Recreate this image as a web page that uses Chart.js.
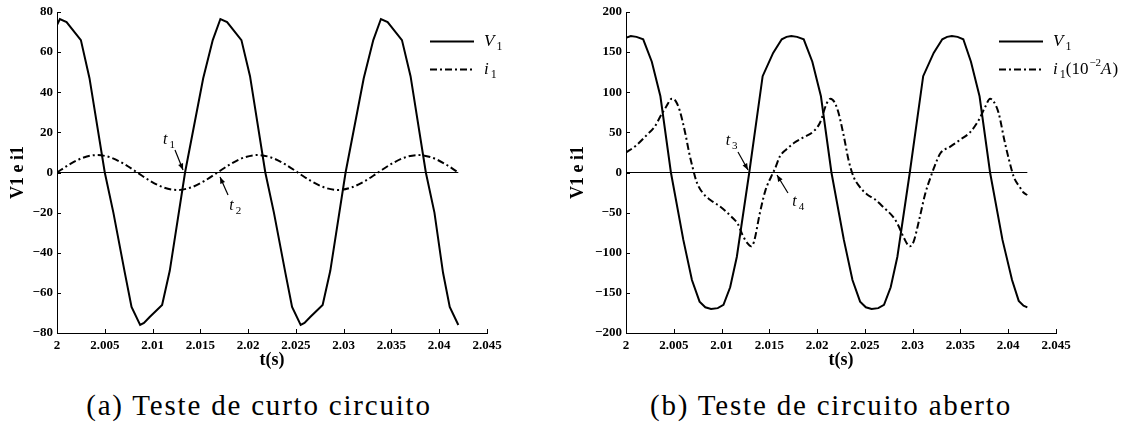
<!DOCTYPE html>
<html><head><meta charset="utf-8">
<script src="https://cdn.jsdelivr.net/npm/chart.js@4.4.0/dist/chart.umd.min.js"></script>
<style>
html,body{margin:0;padding:0;background:#fff;width:1146px;height:425px;overflow:hidden;}
.box{position:absolute;top:0;height:380px;}
#boxA{left:0;width:560px;}
#boxB{left:560px;width:586px;}
.cap{position:absolute;font-family:"Liberation Serif","Times New Roman","DejaVu Serif",serif;font-size:29px;letter-spacing:1.8px;color:#000;white-space:nowrap;transform:translateX(-50%);line-height:1;}
</style></head><body>
<div class="box" id="boxA"><canvas id="cA"></canvas></div>
<div class="box" id="boxB"><canvas id="cB"></canvas></div>
<div class="cap" style="left:259px;top:391px">(a) Teste de curto circuito</div>
<div class="cap" style="left:831px;top:391px">(b) Teste de circuito aberto</div>
<script>
// ---- tick labels ----
const xTicks = [2, 2.005, 2.01, 2.015, 2.02, 2.025, 2.03, 2.035, 2.04, 2.045];
const xTickLabels = ['2','2.005','2.01','2.015','2.02','2.025','2.03','2.035','2.04','2.045'];
const yTicksA = [-80,-60,-40,-20,0,20,40,60,80];
const yTicksB = [-200,-150,-100,-50,0,50,100,150,200];

// ---- zero reference line ----
const zeroT = [2, 2.042];
const zeroV = [0, 0];

// ---- (a) curto circuito: V1 ----
const tV1a = [2.0000,2.0003,2.0010,2.0025,2.0034,2.0050,2.0059,2.0071,2.0078,2.0087,2.0091,2.0097,2.0110,2.0118,
  2.0134,2.0153,2.0163,2.0171,2.0178,2.0193,2.0202,2.0218,2.0227,2.0239,2.0246,2.0255,2.0259,2.0265,2.0278,2.0286,
  2.0302,2.0321,2.0331,2.0339,2.0346,2.0361,2.0370,2.0386,2.0395,2.0404,2.0411,2.0420];
const V1a = [73.5,76.5,75,66,47,0,-20,-50,-67,-76,-75,-72,-66,-49,
  0,47,66,76.5,75,66,48,0,-20,-50,-67,-76,-75,-72,-66,-49,
  0,47,66,76.5,75,66,48,0,-20,-50,-67,-76];

// ---- (a) curto circuito: i1 ----
const ti1a = [2.0000,2.0014,2.0028,2.0042,2.0056,2.0070,2.0084,2.0098,2.0112,2.0126,2.0140,2.0154,2.0168,2.0182,
  2.0196,2.0210,2.0224,2.0238,2.0252,2.0266,2.0280,2.0294,2.0308,2.0322,2.0336,2.0350,2.0364,2.0378,2.0392,2.0406,2.0420];
const i1a = [0,4.3,7.5,8.7,7.5,4.3,0,-4.3,-7.5,-8.7,-7.5,-4.3,0,4.3,
  7.5,8.7,7.5,4.3,0,-4.3,-7.5,-8.7,-7.5,-4.3,0,4.3,7.5,8.7,7.5,4.3,0];

// ---- (b) circuito aberto: V1 ----
const tV1b = [2.0000,2.0005,2.0011,2.0018,2.0027,2.0036,2.0047,2.0060,2.0069,2.0077,2.0083,2.0089,2.0096,2.0102,2.0109,2.0116,
  2.0129,2.0143,2.0154,2.0163,2.0168,2.0173,2.0179,2.0186,2.0195,2.0204,2.0215,2.0228,2.0237,2.0245,2.0251,2.0257,2.0264,2.0270,2.0277,2.0284,
  2.0297,2.0311,2.0322,2.0331,2.0336,2.0341,2.0347,2.0353,2.0361,2.0370,2.0381,2.0394,2.0404,2.0411,2.0416,2.0420];
const V1b = [168,170,169,166,138,95,0,-84,-134,-161,-168,-170,-169,-165,-143,-105,
  0,120,149,166,169,170,169,166,138,95,0,-84,-134,-161,-168,-170,-169,-165,-143,-105,
  0,120,149,166,169,170,169,166,138,95,0,-84,-134,-160,-166,-168];

// ---- (b) circuito aberto: i1 (10^-2 A) ----
const ti1b = [2.0000,2.0010,2.0022,2.0030,2.0036,2.0042,2.0048,2.0052,2.0056,2.0062,2.0066,2.0070,2.0074,2.0080,2.0088,2.0098,
  2.0105,2.0112,2.0117,2.0122,2.0127,2.0131,2.0134,2.0140,2.0146,2.0152,2.0156,2.0161,2.0168,2.0176,2.0186,2.0196,
  2.0203,2.0210,2.0214,2.0218,2.0222,2.0228,2.0233,2.0238,2.0244,2.0252,2.0260,2.0270,2.0280,2.0285,2.0291,2.0297,
  2.0301,2.0307,2.0313,2.0319,2.0323,2.0329,2.0339,2.0350,2.0360,2.0369,2.0376,2.0381,2.0385,2.0390,2.0396,2.0401,
  2.0406,2.0412,2.0416,2.0420];
const i1b = [25,33,47,57,70,82,92,89,78,49,25,5,-12,-25,-34,-42,
  -49,-57,-64,-78,-88,-92,-86,-51,-22,-5,5,20,29,37,44,51,
  62,86,92,88,76,45,15,-5,-17,-27,-33,-44,-56,-66,-82,-92,
  -86,-58,-27,-5,8,24,32,41,50,65,82,92,88,74,40,15,
  -6,-18,-25,-28];

// ---- annotations (data units) ----
const notesA = [
  {sub:'1', at:[2.01109, 14.25], from:[2.01235, 11.25], to:[2.01319, 1.25]},
  {sub:'2', at:[2.01803, -18.75], from:[2.01790, -11.25], to:[2.01706, -2.25]}
];
const notesB = [
  {sub:'3', at:[2.01043, 34.4], from:[2.01172, 25.6], to:[2.01277, 3.1]},
  {sub:'4', at:[2.01741, -41.9], from:[2.01695, -25.6], to:[2.01580, -3.1]}
];
const legendA = [
  {dash:[], parts:[['V','it'],['1','sub']]},
  {dash:[7,3,2,3], parts:[['i','it'],['1','sub']]}
];
const legendB = [
  {dash:[], parts:[['V','it'],['1','sub']]},
  {dash:[7,3,2,3], parts:[['i','it'],['1','sub'],['(10','rm'],['\u22122','sup'],['A','it'],[')','rm']]}
];

function pts(ts, vs){ return ts.map((t,i)=>({x:t, y:vs[i]})); }
function fmtY(v){ return v < 0 ? '\u2212' + Math.abs(v) : String(v); }

const SERIF = '"Liberation Serif", "Times New Roman", "DejaVu Serif", serif';
function drawMath(ctx, x, y, parts, size){
  let cx = x;
  parts.forEach(([txt, kind])=>{
    let font, dy = 0;
    if (kind === 'it') font = 'italic ' + size + 'px ' + SERIF;
    else if (kind === 'rm') font = size + 'px ' + SERIF;
    else if (kind === 'sub') { font = Math.round(size*0.7) + 'px ' + SERIF; dy = size*0.25; cx += 1; }
    else { font = Math.round(size*0.65) + 'px ' + SERIF; dy = -size*0.42; cx += 1; }
    ctx.font = font;
    ctx.fillText(txt, cx, y + dy);
    cx += ctx.measureText(txt).width + (kind === 'it' ? 1 : 0);
  });
}

const decor = {
  id: 'decor',
  afterDatasetsDraw(chart, args, opts){
    const ctx = chart.ctx, xs = chart.scales.x, ys = chart.scales.y, a = chart.chartArea;
    ctx.save();
    ctx.strokeStyle = '#000'; ctx.fillStyle = '#000';
    // inward ticks
    ctx.lineWidth = 1; ctx.beginPath();
    xs.ticks.forEach(t=>{ const px = Math.round(xs.getPixelForValue(t.value)) + 0.5; ctx.moveTo(px, a.bottom); ctx.lineTo(px, a.bottom - 4); });
    ys.ticks.forEach(t=>{ const py = Math.round(ys.getPixelForValue(t.value)) + 0.5; ctx.moveTo(a.left, py); ctx.lineTo(a.left + 4, py); });
    ctx.stroke();
    // legend
    ctx.textBaseline = 'alphabetic'; ctx.textAlign = 'left';
    opts.legend.forEach((item, i)=>{
      const y = a.top + 29.5 + i * 28;
      const x0 = a.right - 57;
      ctx.beginPath(); ctx.lineWidth = 2; ctx.setLineDash(item.dash);
      ctx.moveTo(x0, y); ctx.lineTo(x0 + 44, y); ctx.stroke();
      ctx.setLineDash([]);
      drawMath(ctx, x0 + 54, y + 4, item.parts, 17);
    });
    // annotations
    const p = (t, v) => [xs.getPixelForValue(t), ys.getPixelForValue(v)];
    opts.notes.forEach(n=>{
      const [lx, ly] = p(n.at[0], n.at[1]);
      drawMath(ctx, lx, ly, [['t','it'],[n.sub,'sub']], 16);
      const [x1, y1] = p(n.from[0], n.from[1]);
      const [x2, y2] = p(n.to[0], n.to[1]);
      ctx.beginPath(); ctx.lineWidth = 1.2; ctx.moveTo(x1, y1); ctx.lineTo(x2, y2); ctx.stroke();
      const ang = Math.atan2(y2 - y1, x2 - x1), L = 7, W = 0.38;
      ctx.beginPath(); ctx.moveTo(x2, y2);
      ctx.lineTo(x2 - L*Math.cos(ang - W), y2 - L*Math.sin(ang - W));
      ctx.lineTo(x2 - L*Math.cos(ang + W), y2 - L*Math.sin(ang + W));
      ctx.closePath(); ctx.fill();
    });
    ctx.restore();
  }
};

function makeChart(id, o){
  return new Chart(document.getElementById(id), {
    type: 'line',
    data: { datasets: [
      { data: pts(zeroT, zeroV), borderColor:'#000', borderWidth:1, pointRadius:0, tension:0 },
      { data: pts(o.tV, o.V), borderColor:'#000', borderWidth:2, pointRadius:0, tension:0 },
      { data: pts(o.ti, o.i), borderColor:'#000', borderWidth:2, borderDash:[7,3,2,3], pointRadius:0, cubicInterpolationMode:'monotone' }
    ]},
    options: {
      responsive:true, maintainAspectRatio:false, animation:false,
      layout:{ padding:{ top:12, right:o.padRight, left:0, bottom:0 } },
      plugins:{ legend:{display:false}, tooltip:{enabled:false}, decor:{ legend:o.legend, notes:o.notes } },
      scales:{
        x:{ type:'linear', min:2, max:2.045,
            afterBuildTicks: s => { s.ticks = xTicks.map(v=>({value:v})); },
            afterFit: s => { s.height = 47; },
            grid:{ display:false, drawTicks:false },
            border:{ display:true, color:'#000', width:1 },
            ticks:{ color:'#000', padding:5, maxRotation:0, autoSkip:false,
                    font:{ family:SERIF, size:13, weight:'bold' },
                    callback:(v, i) => xTickLabels[i] },
            title:{ display:true, text:'t(s)', color:'#000', padding:{top:0, bottom:9},
                    font:{ family:SERIF, size:18, weight:'bold' } } },
        y:{ type:'linear', min:o.yTicks[0], max:o.yTicks[o.yTicks.length-1],
            afterBuildTicks: s => { s.ticks = o.yTicks.map(v=>({value:v})); },
            afterFit: s => { s.width = o.yWidth; },
            grid:{ display:false, drawTicks:false },
            border:{ display:true, color:'#000', width:1 },
            ticks:{ color:'#000', padding:4, autoSkip:false,
                    font:{ family:SERIF, size:13, weight:'bold' },
                    callback: v => fmtY(v) },
            title:{ display:true, text:'V1 e i1', color:'#000', padding:{top:o.titlePad, bottom:0},
                    font:{ family:SERIF, size:18, weight:'bold' } } }
      }
    },
    plugins:[decor]
  });
}

makeChart('cA', { tV:tV1a, V:V1a, ti:ti1a, i:i1a, yTicks:yTicksA, yWidth:57, padRight:73, titlePad:8, legend:legendA, notes:notesA });
makeChart('cB', { tV:tV1b, V:V1b, ti:ti1b, i:i1b, yTicks:yTicksB, yWidth:66, padRight:90, titlePad:8, legend:legendB, notes:notesB });
</script>
</body></html>
